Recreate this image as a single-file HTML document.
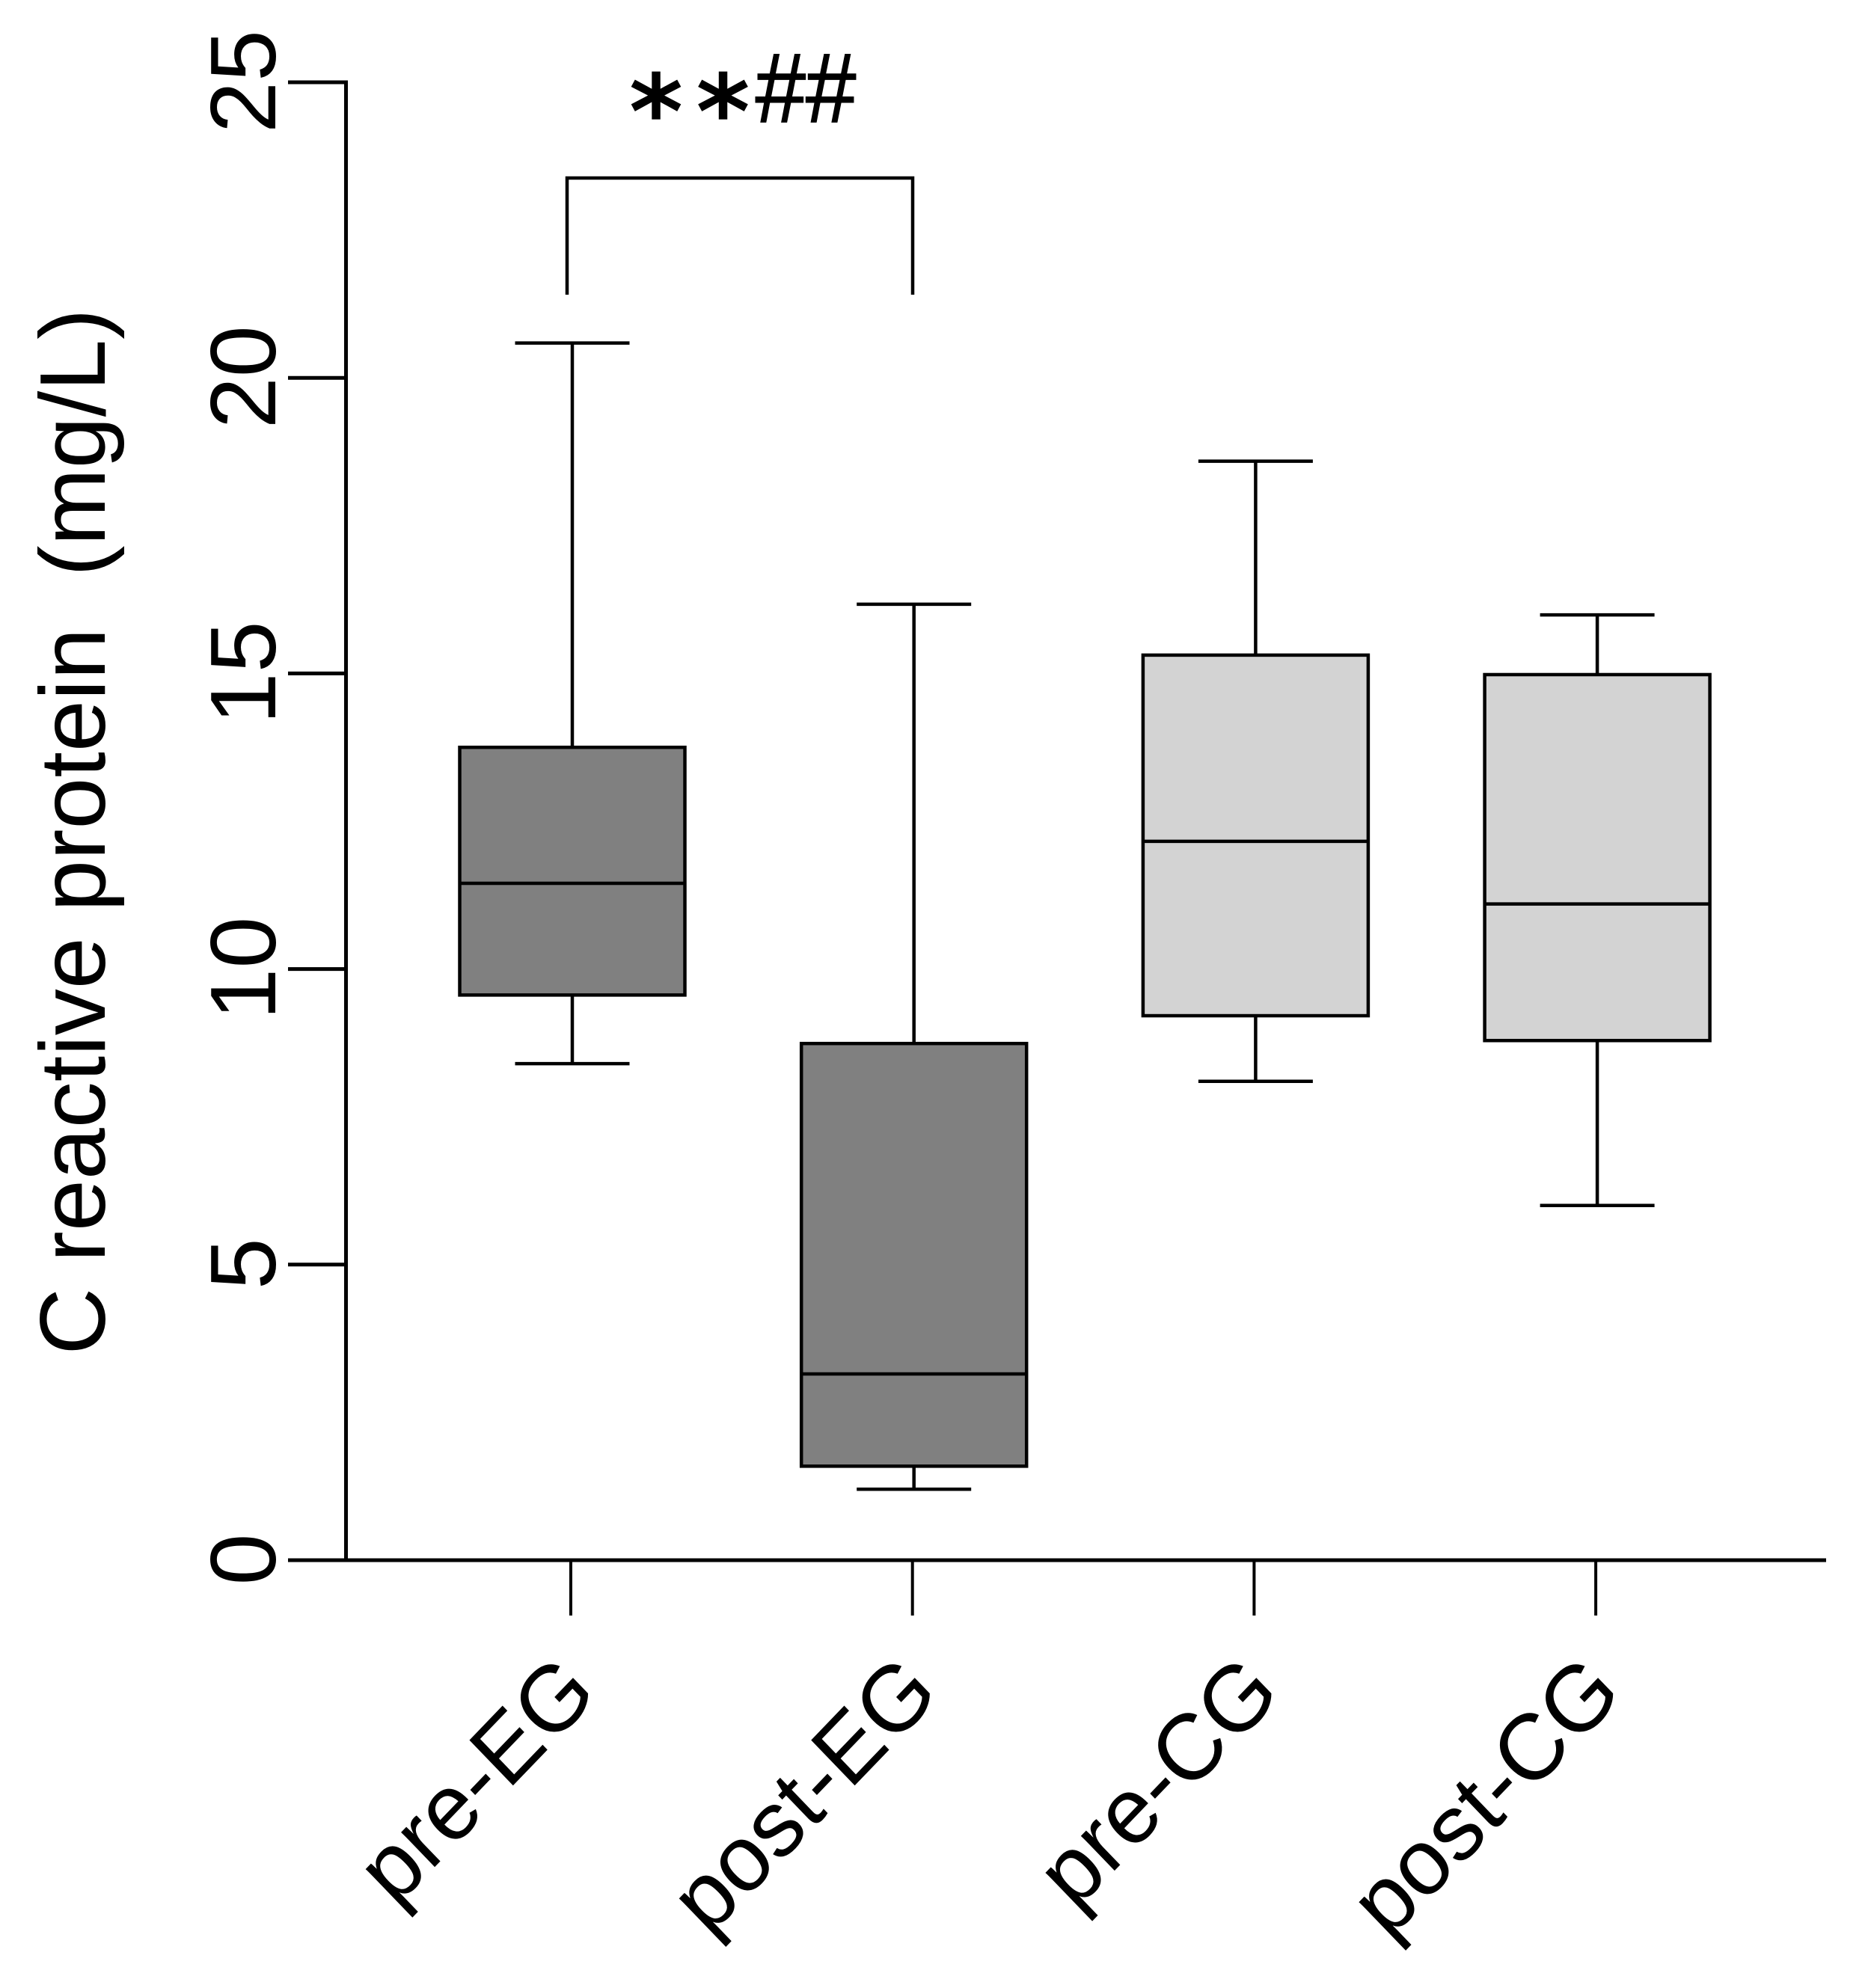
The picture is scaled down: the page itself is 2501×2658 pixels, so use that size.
<!DOCTYPE html>
<html lang="en">
<head>
<meta charset="utf-8">
<title>C reactive protein box plot</title>
<style>
  html, body { margin: 0; padding: 0; background: #fff; }
  svg { display: block; }
  text { font-family: "Liberation Sans", Arial, sans-serif; fill: #000; white-space: pre; }
</style>
</head>
<body>
<svg id="chart" xmlns="http://www.w3.org/2000/svg" width="2501" height="2658" viewBox="0 0 2501 2658">
  <rect x="0" y="0" width="2501" height="2658" fill="#ffffff"/>
  <text transform="translate(140 1112) rotate(-90)" text-anchor="middle" font-size="124">C reactive protein  (mg/L)</text>
  <g>
    <path d="M758 394V238H1220V394" fill="none" stroke="#000" stroke-width="4.5"/>
    <text x="877" y="198" text-anchor="middle" font-size="138" font-weight="bold" style="font-family:'DejaVu Sans',sans-serif">*</text>
    <text x="966.5" y="198" text-anchor="middle" font-size="138" font-weight="bold" style="font-family:'DejaVu Sans',sans-serif">*</text>
    <text transform="translate(1077 163) scale(1 1.09)" text-anchor="middle" font-size="121" stroke="#000" stroke-width="1.5">##</text>
  </g>
  <g id="marks"></g>
  <g id="axes"></g>
</svg>
<script>
const categories = ['pre-EG', 'post-EG', 'pre-CG', 'post-CG'];
const whiskerLow = [8.4, 1.2, 8.1, 6.0];
const quartile1 = [9.56, 1.59, 9.21, 8.79];
const medians = [11.45, 3.15, 12.16, 11.1];
const quartile3 = [13.75, 8.74, 15.31, 14.98];
const whiskerHigh = [20.59, 16.17, 18.59, 15.99];
const fillGroups = ['EG', 'EG', 'CG', 'CG'];
const yTickValues = [0, 5, 10, 15, 20, 25];
const yTickLabels = ['0', '5', '10', '15', '20', '25'];

const NS = 'http://www.w3.org/2000/svg';
const marks = document.getElementById('marks');
const axes = document.getElementById('axes');
const yAxisBottom = 2086;
const yPerUnit = 79.04;
const xFirst = 763;
const xStep = 456.7;
const boxOffset = 2;
const boxWidth = 301;
const capWidth = 153;
function yScale(v) { return yAxisBottom - v * yPerUnit; }
function xScale(i) { return xFirst + i * xStep; }
function mk(parent, tag, attrs) {
  const el = document.createElementNS(NS, tag);
  for (const k in attrs) el.setAttribute(k, attrs[k]);
  parent.appendChild(el);
  return el;
}
function groupFill(g) { return g === 'EG' ? '#808080' : '#d3d3d3'; }

categories.forEach(function (cat, i) {
  const cx = xScale(i) + boxOffset;
  const g = mk(marks, 'g', {});
  
  

  const whisker = mk(g, 'line', { x1: cx, x2: cx, y1: yScale(whiskerHigh[i]), y2: yScale(whiskerLow[i]), stroke: '#000', 'stroke-width': 4.5 });
  
  

  const capHigh = mk(g, 'line', { x1: cx - capWidth / 2, x2: cx + capWidth / 2, y1: yScale(whiskerHigh[i]), y2: yScale(whiskerHigh[i]), stroke: '#000', 'stroke-width': 4.5 });
  
  

  const capLow = mk(g, 'line', { x1: cx - capWidth / 2, x2: cx + capWidth / 2, y1: yScale(whiskerLow[i]), y2: yScale(whiskerLow[i]), stroke: '#000', 'stroke-width': 4.5 });
  
  

  const box = mk(g, 'rect', { x: cx - boxWidth / 2, y: yScale(quartile3[i]), width: boxWidth, height: yScale(quartile1[i]) - yScale(quartile3[i]), fill: groupFill(fillGroups[i]), stroke: '#000', 'stroke-width': 4.5 });
  
  

  const med = mk(g, 'line', { x1: cx - boxWidth / 2, x2: cx + boxWidth / 2, y1: yScale(medians[i]), y2: yScale(medians[i]), stroke: '#000', 'stroke-width': 4.5 });
  
  
});

const yAxisLine = mk(axes, 'line', { x1: 462.5, x2: 462.5, y1: yScale(25) - 2.5, y2: yScale(0), stroke: '#000', 'stroke-width': 5 });



const xAxisLine = mk(axes, 'line', { x1: 385, x2: 2441, y1: yScale(0), y2: yScale(0), stroke: '#000', 'stroke-width': 5 });



yTickValues.forEach(function (v, i) {
  const t = mk(axes, 'line', { x1: 385, x2: 462, y1: yScale(v), y2: yScale(v), stroke: '#000', 'stroke-width': 5 });
  
  

  const lab = mk(axes, 'text', { transform: 'translate(368 ' + (yScale(v) - 1) + ') rotate(-90)', 'text-anchor': 'middle', 'font-size': 124 });
  lab.textContent = yTickLabels[i];
  
  
});

categories.forEach(function (cat, i) {
  const x = xScale(i);
  const t = mk(axes, 'line', { x1: x, x2: x, y1: yScale(0), y2: 2160, stroke: '#000', 'stroke-width': 4 });
  
  

  const lx = x + 38.5;
  const ly = 2267;
  const lab = mk(axes, 'text', { transform: 'translate(' + lx + ' ' + ly + ') scale(1 1.04) rotate(-45)', 'text-anchor': 'end', 'font-size': 120 });
  lab.textContent = cat;
  
  
});
</script>
</body>
</html>
